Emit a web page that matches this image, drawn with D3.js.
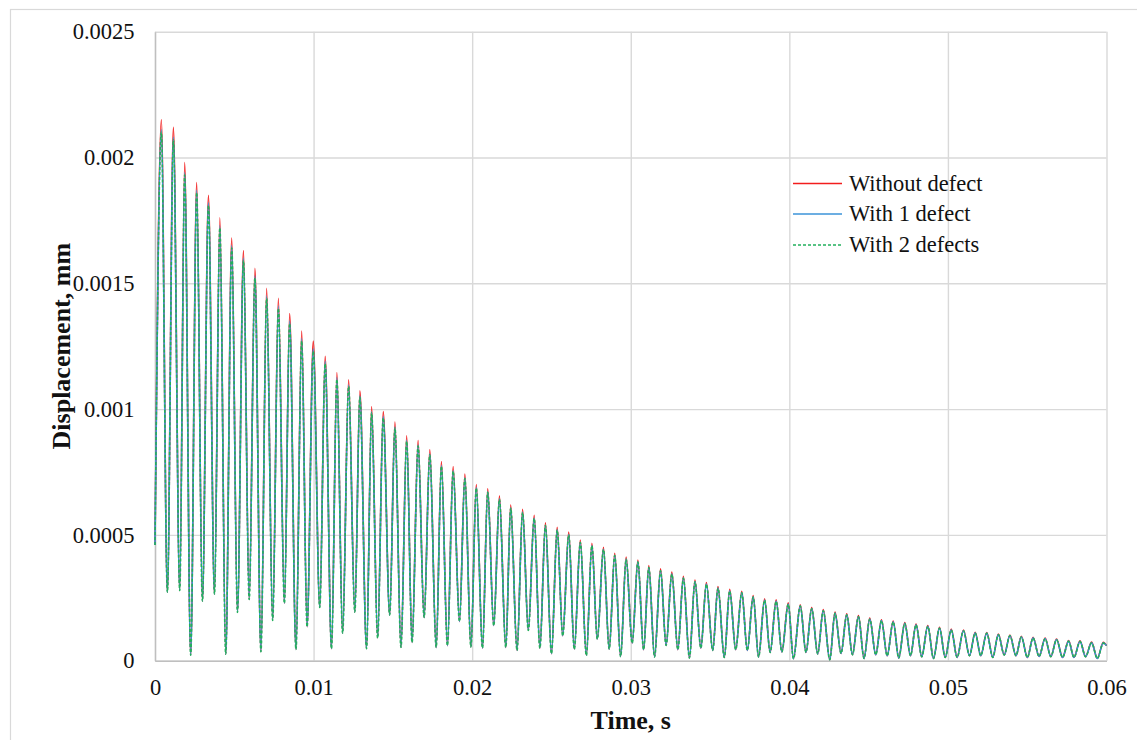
<!DOCTYPE html>
<html>
<head>
<meta charset="utf-8">
<script src="https://cdn.jsdelivr.net/npm/d3@7"></script>
<style>
  html, body { margin: 0; padding: 0; background: #fff; }
  svg { display: block; }
  text { font-family: "Liberation Serif", "Times New Roman", serif; fill: #111; }
</style>
</head>
<body>
<svg id="chart" width="1137" height="740"></svg>
<script>
// Time axis ticks (s) and displacement ticks (mm)
const xTickValues = [0, 0.01, 0.02, 0.03, 0.04, 0.05, 0.06];
const xTickLabels = ["0", "0.01", "0.02", "0.03", "0.04", "0.05", "0.06"];
const yTickValues = [0, 0.0005, 0.001, 0.0015, 0.002, 0.0025];
const yTickLabels = ["0", "0.0005", "0.001", "0.0015", "0.002", "0.0025"];

const seriesNames = ["Without defect", "With 1 defect", "With 2 defects"];

// Response starts and ends between extremes
const startPoint = { t: 0, d: 0.00046 };
const endPoint = { t: 0.06, d: 0.00006 };

// Times of the local maxima (s)
const peakTime = [
  0.00040, 0.00116, 0.00187, 0.00263, 0.00337, 0.00409, 0.00484, 0.00558, 0.00630, 0.00704,
  0.00778, 0.00849, 0.00925, 0.00998, 0.01073, 0.01147, 0.01221, 0.01292, 0.01366, 0.01439,
  0.01513, 0.01587, 0.01659, 0.01733, 0.01806, 0.01880, 0.01954, 0.02026, 0.02098, 0.02172,
  0.02243, 0.02318, 0.02391, 0.02462, 0.02536, 0.02609, 0.02682, 0.02755, 0.02828, 0.02899,
  0.02971, 0.03045, 0.03114, 0.03188, 0.03259, 0.03332, 0.03405, 0.03477, 0.03550, 0.03624,
  0.03700, 0.03772, 0.03844, 0.03917, 0.03993, 0.04069, 0.04141, 0.04214, 0.04288, 0.04362,
  0.04436, 0.04507, 0.04581, 0.04655, 0.04728, 0.04799, 0.04873, 0.04947, 0.05021, 0.05098,
  0.05172, 0.05245, 0.05318, 0.05391, 0.05463, 0.05537, 0.05613, 0.05685, 0.05761, 0.05833,
  0.05906, 0.05980
];

// Times of the local minima (s)
const troughTime = [
  0.00078, 0.00156, 0.00225, 0.00299, 0.00375, 0.00446, 0.00520, 0.00594, 0.00668, 0.00742,
  0.00816, 0.00889, 0.00959, 0.01039, 0.01113, 0.01183, 0.01260, 0.01334, 0.01404, 0.01480,
  0.01551, 0.01621, 0.01697, 0.01773, 0.01844, 0.01920, 0.01992, 0.02065, 0.02136, 0.02212,
  0.02283, 0.02354, 0.02427, 0.02500, 0.02571, 0.02644, 0.02720, 0.02789, 0.02864, 0.02936,
  0.03009, 0.03081, 0.03150, 0.03223, 0.03297, 0.03370, 0.03442, 0.03517, 0.03590, 0.03662,
  0.03735, 0.03806, 0.03879, 0.03953, 0.04026, 0.04105, 0.04179, 0.04255, 0.04326, 0.04398,
  0.04471, 0.04545, 0.04617, 0.04690, 0.04764, 0.04835, 0.04909, 0.04983, 0.05058, 0.05136,
  0.05207, 0.05283, 0.05355, 0.05429, 0.05501, 0.05575, 0.05649, 0.05723, 0.05795, 0.05868,
  0.05942
];

// Minimum displacement (mm), common to all three cases
const troughDisp = [
  0.000272, 0.000279, 0.000022, 0.000236, 0.000264, 0.000026, 0.000192, 0.000243, 0.000036, 0.000160,
  0.000228, 0.000045, 0.000135, 0.000212, 0.000048, 0.000109, 0.000193, 0.000048, 0.000090, 0.000182,
  0.000053, 0.000073, 0.000172, 0.000053, 0.000060, 0.000156, 0.000055, 0.000050, 0.000140, 0.000053,
  0.000041, 0.000120, 0.000050, 0.000028, 0.000099, 0.000046, 0.000021, 0.000086, 0.000046, 0.000017,
  0.000070, 0.000044, 0.000015, 0.000061, 0.000044, 0.000011, 0.000050, 0.000041, 0.000013, 0.000044,
  0.000041, 0.000015, 0.000033, 0.000035, 0.000008, 0.000033, 0.000027, 0.000004, 0.000029, 0.000024,
  0.000009, 0.000024, 0.000020, 0.000011, 0.000020, 0.000016, 0.000009, 0.000013, 0.000013, 0.000020,
  0.000020, 0.000013, 0.000023, 0.000020, 0.000013, 0.000017, 0.000016, 0.000013, 0.000013, 0.000016,
  0.000009
];

// Peak displacement (mm) without defect
const peakNoDefect = [
  0.002150, 0.002120, 0.001980, 0.001900, 0.001850, 0.001760, 0.001680, 0.001630, 0.001560, 0.001480,
  0.001440, 0.001380, 0.001310, 0.001270, 0.001210, 0.001145, 0.001116, 0.001073, 0.001010, 0.000990,
  0.000949, 0.000894, 0.000875, 0.000839, 0.000792, 0.000772, 0.000742, 0.000700, 0.000683, 0.000655,
  0.000619, 0.000602, 0.000578, 0.000548, 0.000530, 0.000511, 0.000480, 0.000467, 0.000451, 0.000427,
  0.000412, 0.000400, 0.000378, 0.000365, 0.000352, 0.000335, 0.000321, 0.000311, 0.000295, 0.000284,
  0.000276, 0.000259, 0.000246, 0.000242, 0.000230, 0.000222, 0.000211, 0.000203, 0.000193, 0.000186,
  0.000179, 0.000170, 0.000163, 0.000158, 0.000152, 0.000146, 0.000140, 0.000133, 0.000126, 0.000122,
  0.000113, 0.000112, 0.000106, 0.000102, 0.000097, 0.000093, 0.000090, 0.000086, 0.000080, 0.000079,
  0.000074, 0.000073
];

// Peak displacement (mm) with one defect
const peakOneDefect = [
  0.002110, 0.002080, 0.001940, 0.001870, 0.001820, 0.001730, 0.001650, 0.001600, 0.001530, 0.001450,
  0.001410, 0.001350, 0.001280, 0.001240, 0.001190, 0.001125, 0.001096, 0.001053, 0.000990, 0.000970,
  0.000929, 0.000876, 0.000857, 0.000822, 0.000776, 0.000756, 0.000727, 0.000688, 0.000671, 0.000643,
  0.000608, 0.000591, 0.000567, 0.000538, 0.000520, 0.000501, 0.000471, 0.000458, 0.000443, 0.000419,
  0.000404, 0.000393, 0.000371, 0.000358, 0.000345, 0.000329, 0.000315, 0.000305, 0.000289, 0.000278,
  0.000271, 0.000254, 0.000241, 0.000237, 0.000225, 0.000218, 0.000207, 0.000199, 0.000189, 0.000182,
  0.000175, 0.000166, 0.000160, 0.000155, 0.000149, 0.000143, 0.000137, 0.000130, 0.000123, 0.000120,
  0.000111, 0.000110, 0.000104, 0.000100, 0.000095, 0.000091, 0.000088, 0.000084, 0.000078, 0.000077,
  0.000072, 0.000071
];

// Peak displacement (mm) with two defects
const peakTwoDefects = [
  0.002100, 0.002070, 0.001930, 0.001860, 0.001810, 0.001720, 0.001640, 0.001590, 0.001520, 0.001440,
  0.001400, 0.001340, 0.001270, 0.001230, 0.001180, 0.001118, 0.001090, 0.001047, 0.000985, 0.000965,
  0.000925, 0.000872, 0.000853, 0.000818, 0.000773, 0.000753, 0.000724, 0.000686, 0.000669, 0.000641,
  0.000606, 0.000589, 0.000565, 0.000537, 0.000519, 0.000500, 0.000470, 0.000457, 0.000442, 0.000418,
  0.000403, 0.000392, 0.000370, 0.000357, 0.000344, 0.000328, 0.000314, 0.000304, 0.000288, 0.000277,
  0.000270, 0.000253, 0.000240, 0.000236, 0.000224, 0.000217, 0.000206, 0.000198, 0.000188, 0.000181,
  0.000174, 0.000165, 0.000159, 0.000154, 0.000148, 0.000142, 0.000136, 0.000129, 0.000122, 0.000119,
  0.000110, 0.000109, 0.000103, 0.000099, 0.000094, 0.000090, 0.000087, 0.000083, 0.000077, 0.000076,
  0.000071, 0.000070
];

const seriesColors = ["#f21d1d", "#3b93d8", "#22b05c"];
const seriesDash = [null, null, "3,2"];

// Build an alternating max/min sequence for one case
function buildSeries(peaks) {
  const pts = [startPoint];
  for (let i = 0; i < peakTime.length; i++) {
    pts.push({ t: peakTime[i], d: peaks[i] });
    if (i < troughTime.length) pts.push({ t: troughTime[i], d: troughDisp[i] });
  }
  pts.push(endPoint);
  return pts;
}
const series = [peakNoDefect, peakOneDefect, peakTwoDefects].map(buildSeries);

const svg = d3.select("#chart");
const plot = { left: 155, right: 1106.5, top: 31.7, bottom: 660.7 };

const x = d3.scaleLinear().domain([0, 0.06]).range([plot.left, plot.right]);
const y = d3.scaleLinear().domain([0, 0.0025]).range([plot.bottom, plot.top]);

// Outer chart frame
svg.append("rect")
  .attr("x", 10.5).attr("y", 9.5)
  .attr("width", 1160).attr("height", 760)
  .attr("fill", "#fff").attr("stroke", "#d9d9d9").attr("stroke-width", 1.2);

// Gridlines
svg.append("g")
  .attr("transform", `translate(0,${plot.bottom})`)
  .call(d3.axisBottom(x).tickValues(xTickValues).tickSize(-(plot.bottom - plot.top)).tickFormat(""))
  .call(g => g.select(".domain").remove())
  .call(g => g.selectAll("line").attr("stroke", "#d9d9d9").attr("stroke-width", 1.4));

svg.append("g")
  .attr("transform", `translate(${plot.left},0)`)
  .call(d3.axisLeft(y).tickValues(yTickValues).tickSize(-(plot.right - plot.left)).tickFormat(""))
  .call(g => g.select(".domain").remove())
  .call(g => g.selectAll("line").attr("stroke", "#d9d9d9").attr("stroke-width", 1.4));

// Axes with labels
const xAxis = svg.append("g")
  .attr("transform", `translate(0,${plot.bottom})`)
  .call(d3.axisBottom(x).tickValues(xTickValues).tickSize(0).tickPadding(18)
    .tickFormat((d, i) => xTickLabels[i]));
xAxis.select(".domain").attr("stroke", "#bfbfbf").attr("stroke-width", 1.4);
xAxis.selectAll("text")
  .style("font-family", "'Liberation Serif', 'Times New Roman', serif")
  .style("font-size", "22.5px").attr("fill", "#111");

const yAxis = svg.append("g")
  .attr("transform", `translate(${plot.left},0)`)
  .call(d3.axisLeft(y).tickValues(yTickValues).tickSize(0).tickPadding(20.5)
    .tickFormat((d, i) => yTickLabels[i]));
yAxis.select(".domain").attr("stroke", "#bfbfbf").attr("stroke-width", 1.4);
yAxis.selectAll("text")
  .style("font-family", "'Liberation Serif', 'Times New Roman', serif")
  .style("font-size", "22.5px").attr("fill", "#111");

// Axis titles
svg.append("text")
  .attr("x", (plot.left + plot.right) / 2).attr("y", 729)
  .attr("text-anchor", "middle")
  .style("font-size", "26px").style("font-weight", "bold")
  .text("Time, s");

svg.append("text")
  .attr("transform", `translate(70,${(plot.top + plot.bottom) / 2}) rotate(-90)`)
  .attr("text-anchor", "middle")
  .style("font-size", "26px").style("font-weight", "bold")
  .text("Displacement, mm");

// Displacement curves
const line = d3.line()
  .x(p => x(p.t))
  .y(p => y(p.d))
  .curve(d3.curveMonotoneX);

svg.append("g")
  .selectAll("path")
  .data(series)
  .join("path")
  .attr("d", line)
  .attr("fill", "none")
  .attr("stroke", (d, i) => seriesColors[i])
  .attr("stroke-width", 1.6)
  .attr("stroke-dasharray", (d, i) => seriesDash[i]);

// Legend
const legendRows = [183.5, 214, 245];
const legend = svg.append("g");
seriesNames.forEach((name, i) => {
  legend.append("line")
    .attr("x1", 793).attr("x2", 842)
    .attr("y1", legendRows[i]).attr("y2", legendRows[i])
    .attr("stroke", seriesColors[i]).attr("stroke-width", 1.4)
    .attr("stroke-dasharray", seriesDash[i]);
  legend.append("text")
    .attr("x", 849).attr("y", legendRows[i] + 7)
    .style("font-size", "22.5px")
    .text(name);
});
</script>
</body>
</html>
